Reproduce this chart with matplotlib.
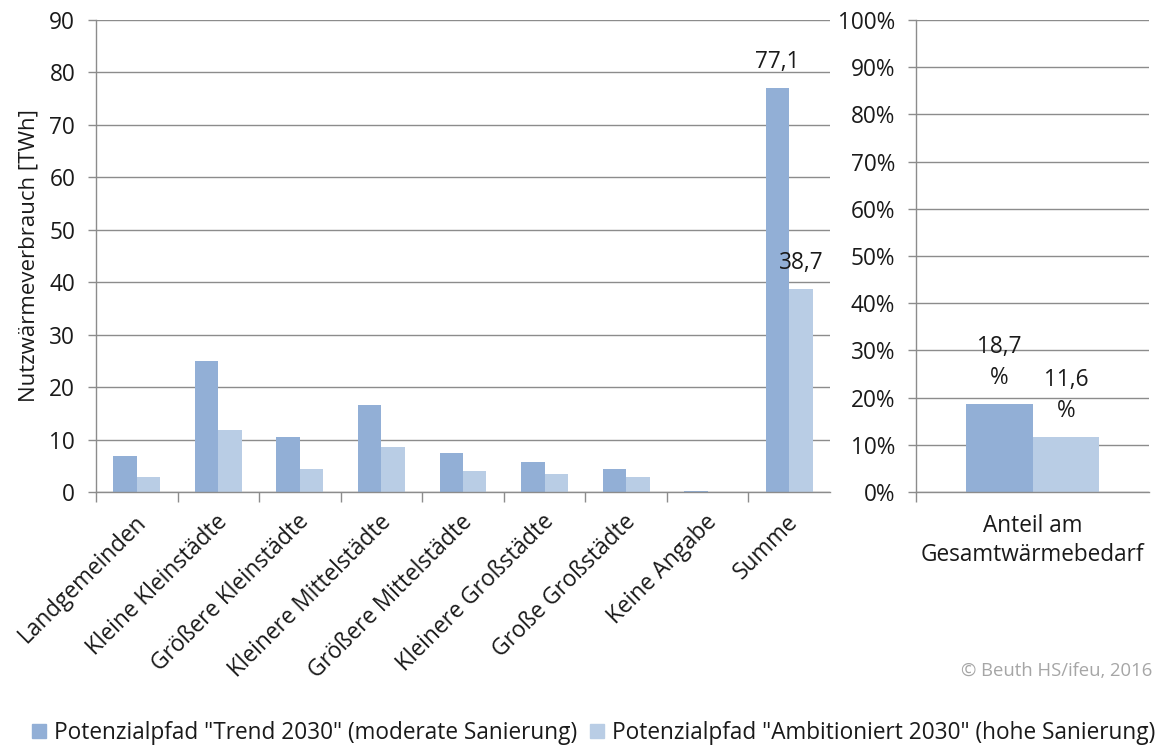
import matplotlib
matplotlib.use("Agg")
import matplotlib.pyplot as plt
import matplotlib.transforms as mtransforms
from matplotlib.patches import Patch
import numpy as np

plt.rcParams['font.family'] = ['Open Sans', 'DejaVu Sans']

# --- data -------------------------------------------------------------
categories = ["Landgemeinden", "Kleine Kleinstädte", "Größere Kleinstädte",
              "Kleinere Mittelstädte", "Größere Mittelstädte", "Kleinere Großstädte",
              "Große Großstädte", "Keine Angabe", "Summe"]
trend_2030 = [6.9, 24.9, 10.5, 16.6, 7.4, 5.7, 4.3, 0.25, 77.1]
ambitioniert_2030 = [2.9, 11.9, 4.3, 8.6, 4.0, 3.4, 2.9, 0.0, 38.7]

share_category = ["Anteil am\nGesamtwärmebedarf"]
share_trend = [18.7]
share_ambitioniert = [11.6]

series_names = ['Potenzialpfad "Trend 2030" (moderate Sanierung)',
                'Potenzialpfad "Ambitioniert 2030" (hohe Sanierung)']
y_ticks_twh = [0, 10, 20, 30, 40, 50, 60, 70, 80, 90]
y_ticks_pct = [0, 10, 20, 30, 40, 50, 60, 70, 80, 90, 100]
credit = "© Beuth HS/ifeu, 2016"

# --- style ------------------------------------------------------------
c_dark = "#92AFD6"
c_light = "#B9CDE5"
c_grid = "#8C8C8C"
c_text = "#1A1A1A"
fs = 16.3

W, H = 1155, 746
fig = plt.figure(figsize=(W / 100, H / 100), dpi=100)

def frac(x0, y0, x1, y1):
    return [x0 / W, 1 - y1 / H, (x1 - x0) / W, (y1 - y0) / H]

ax = fig.add_axes(frac(96, 20, 830, 492))
ax2 = fig.add_axes(frac(916, 20, 1149, 492))

def style_axes(a):
    for s in ("top", "right"):
        a.spines[s].set_visible(False)
    for s in ("left", "bottom"):
        a.spines[s].set_color(c_grid)
        a.spines[s].set_linewidth(1.0)
    a.set_axisbelow(True)
    a.yaxis.grid(True, color=c_grid, linewidth=1.0)
    a.tick_params(axis="y", length=6, width=1.0, color=c_grid, labelsize=fs,
                  pad=9, labelcolor=c_text)
    a.tick_params(axis="x", which="major", length=0, labelsize=fs,
                  labelcolor=c_text)
    a.tick_params(axis="x", which="minor", length=7, width=1.0, color=c_grid,
                  direction="out")

# --- main panel -------------------------------------------------------
x = np.arange(len(categories))
bw = 0.287
ax.bar(x - bw / 2, trend_2030, bw, color=c_dark, label=series_names[0])
ax.bar(x + bw / 2, ambitioniert_2030, bw, color=c_light, label=series_names[1])
ax.set_xlim(-0.5, len(categories) - 0.5)
ax.set_ylim(0, 90)
ax.set_yticks(y_ticks_twh)
ax.set_yticklabels([str(v) for v in y_ticks_twh])
style_axes(ax)
ax.set_xticks(x)
ax.set_xticks(np.arange(len(categories)) - 0.5, minor=True)
ax.set_xticklabels(categories, rotation=45, ha="right", va="top",
                   rotation_mode="anchor")
ax.tick_params(axis="x", which="major", pad=13)
shift = mtransforms.ScaledTranslation(-2 / 72, 0, fig.dpi_scale_trans)
for lab in ax.get_xticklabels():
    lab.set_transform(lab.get_transform() + shift)
ax.set_ylabel("Nutzwärmeverbrauch [TWh]", fontsize=16, labelpad=7, color=c_text)

def fmt(v):
    return f"{v:.1f}".replace(".", ",")

last = len(categories) - 1
ax.annotate(fmt(trend_2030[last]), (x[last] - bw / 2, trend_2030[last]),
            xytext=(0, 10), textcoords="offset points", ha="center", va="bottom",
            fontsize=fs, color=c_text)
ax.annotate(fmt(ambitioniert_2030[last]), (x[last] + bw / 2, ambitioniert_2030[last]),
            xytext=(0, 10), textcoords="offset points", ha="center", va="bottom",
            fontsize=fs, color=c_text)

# --- share panel ------------------------------------------------------
x2 = np.arange(len(share_category))
bw2 = 0.286
ax2.bar(x2 - bw2 / 2, share_trend, bw2, color=c_dark)
ax2.bar(x2 + bw2 / 2, share_ambitioniert, bw2, color=c_light)
ax2.set_xlim(-0.5, 0.5)
ax2.set_ylim(0, 100)
ax2.set_yticks(y_ticks_pct)
ax2.set_yticklabels([f"{v}%" for v in y_ticks_pct])
style_axes(ax2)
ax2.set_xticks(x2)
ax2.set_xticks([-0.5], minor=True)
ax2.set_xticklabels(share_category, ha="center", va="top", linespacing=1.25)
ax2.tick_params(axis="x", which="major", pad=16)

for v, dx in ((share_trend[0], -bw2 / 2), (share_ambitioniert[0], bw2 / 2)):
    ax2.annotate(fmt(v) + "\n%", (dx, v), xytext=(0, 10), textcoords="offset points",
                 ha="center", va="bottom", fontsize=fs, color=c_text,
                 linespacing=1.4)

# --- legend and credit ------------------------------------------------
fig.legend(handles=[Patch(color=c_dark), Patch(color=c_light)], labels=series_names,
           loc="center left", bbox_to_anchor=(23 / W, 1 - 733 / H), ncol=2,
           frameon=False, fontsize=fs, handlelength=0.6, handleheight=0.6,
           handletextpad=0.35, columnspacing=0.6, borderaxespad=0,
           labelcolor=c_text)
fig.text(1152 / W, 1 - 671 / H, credit, fontsize=13.3, color="#A6A6A6",
         ha="right", va="center")

fig.savefig("out.png", dpi=100)
